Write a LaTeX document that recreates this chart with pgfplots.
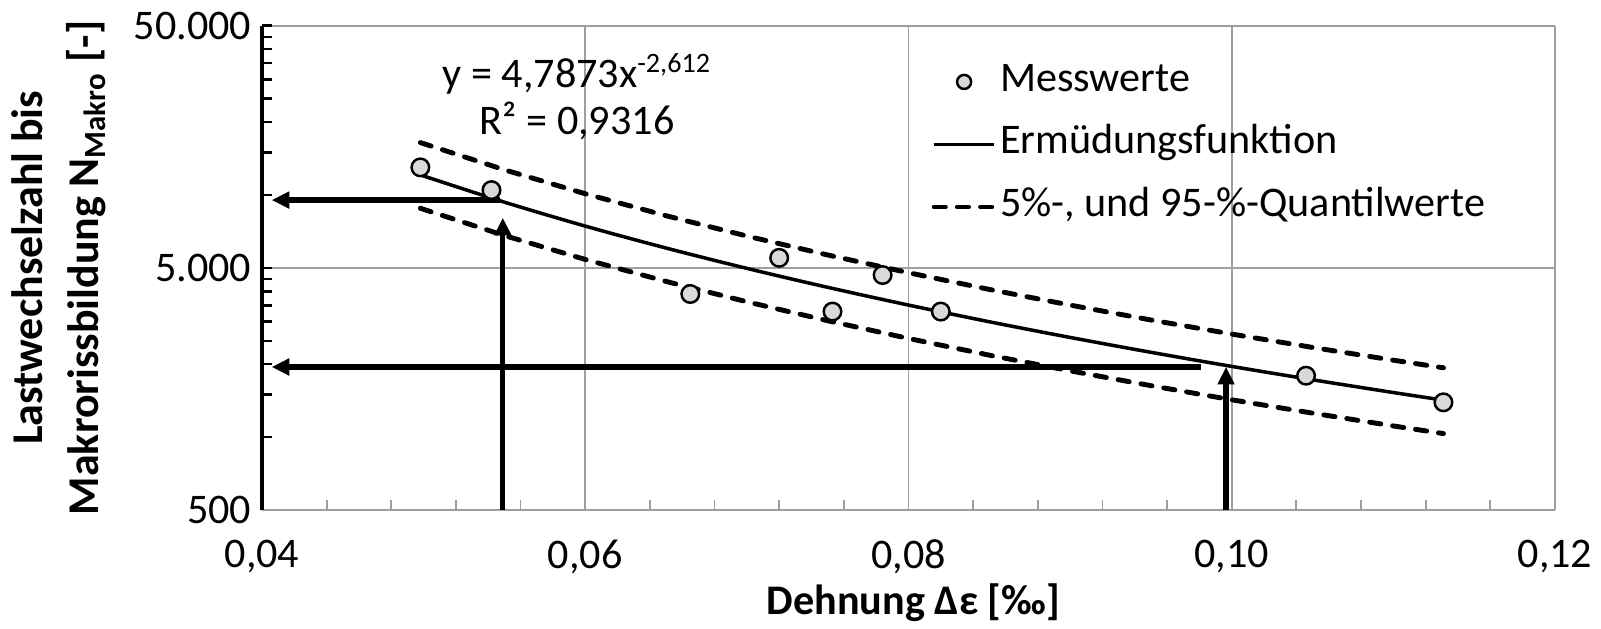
\documentclass[border=0pt]{standalone}
\usepackage{fontspec}
\setmainfont{Carlito}
\usepackage{pgfplots}
\pgfplotsset{compat=1.18}
\usetikzlibrary{arrows.meta}

\pgfplotstableread{
x y
0.0498 13000
0.0542 10470
0.0665 3900
0.0720 5500
0.0753 3300
0.0784 4670
0.0820 3300
0.1046 1793
0.1131 1392
}\messdata

\pgfplotstableread{
x f up lo
0.0498 12100 16456 8809
0.0550 9338 12700 6798
0.0600 7439 10117 5416
0.0650 6037 8210 4395
0.0700 4975 6766 3622
0.0750 4155 5651 3025
0.0800 3510 4774 2555
0.0850 2995 4073 2180
0.0900 2580 3509 1878
0.0950 2240 3046 1631
0.1000 1959 2664 1426
0.1050 1725 2346 1256
0.1100 1528 2078 1112
0.1131 1421 1933 1034
}\fitdata

\begin{document}
\begin{tikzpicture}
\useasboundingbox (-2.62,-1.18) rectangle (13.39,5.10);
\begin{axis}[
  at={(0,0)}, anchor=south west,
  scale only axis, width=12.93cm, height=4.843cm,
  xmin=0.04, xmax=0.12, ymode=log, ymin=500, ymax=50000,
  clip=false,
  xtick={0.04,0.06,0.08,0.10,0.12},
  xticklabels={{0,04},{0,06},{0,08},{0,10},{0,12}},
  minor x tick num=4,
  ytick={500,5000,50000},
  yticklabels={500,5.000,50.000},
  minor ytick={1000,1500,2000,2500,3000,3500,4000,4500,10000,15000,20000,25000,30000,35000,40000,45000},
  axis x line*=bottom, axis y line*=left,
  x axis line style={-, draw=gray!75, line width=0.6pt},
  y axis line style={-, draw=black, line width=0.9pt},
  xmajorgrids, ymajorgrids,
  grid style={draw=gray!75, line width=0.5pt},
  tick align=inside,
  major tick length=0.1cm, minor tick length=0.1cm,
  x tick style={draw=gray!75, line width=0.5pt},
  y tick style={draw=black, line width=0.7pt},
  tick label style={font=\fontsize{12}{14}\selectfont},
  xticklabel style={yshift=-5pt},
  yticklabel style={xshift=0.5pt},
  xlabel={Dehnung Δε [‰]},
  xlabel style={at={(axis description cs:0.5,0)}, anchor=center, yshift=-0.93cm, xshift=0.05cm, font=\fontsize{12}{15}\selectfont\bfseries},
  ylabel={Lastwechselzahl bis\\Makrorissbildung N\textsubscript{Makro} [-]},
  ylabel style={at={(axis description cs:0,0.5)}, anchor=center, rotate=0, yshift=2.03cm, align=center, font=\fontsize{12.5}{16}\selectfont\bfseries},
  legend cell align=left,
  legend style={at={(rel axis cs:0.5174,0.950)}, anchor=north west, draw=none, fill=none,
    font=\fontsize{12}{14}\selectfont, inner sep=0pt,
    nodes={inner sep=1pt, text height=10.6pt, text depth=5.2pt}},
]
\addlegendimage{only marks, mark=*, mark size=2pt, mark options={fill=gray!30, draw=black, line width=0.7pt}}
\addlegendentry{Messwerte}
\addlegendimage{black, line width=1pt}
\addlegendentry{Ermüdungsfunktion}
\addlegendimage{black, line width=1.4pt, line cap=round, dash pattern=on 3.2pt off 3.4pt}
\addlegendentry{5\%-, und 95-\%-Quantilwerte}

% arrows
\addplot[forget plot, black, line width=1.5pt, -{Triangle[length=5pt,width=4.6pt]}] coordinates {(0.0549,500) (0.0549,8050)};
\addplot[forget plot, black, line width=1.5pt, -{Triangle[length=5pt,width=4.6pt]}] coordinates {(0.0547,9525) (0.0406,9525)};
\addplot[forget plot, black, line width=1.5pt, -{Triangle[length=5pt,width=4.6pt]}] coordinates {(0.0981,1948) (0.0406,1948)};
\addplot[forget plot, black, line width=1.5pt, -{Triangle[length=5pt,width=4.6pt]}] coordinates {(0.09965,500) (0.09965,1950)};

% quantiles and fit
\addplot[forget plot, black, line width=1.4pt, line cap=round, dash pattern=on 3.2pt off 3.4pt] table[x=x, y=up] {\fitdata};
\addplot[forget plot, black, line width=1.4pt, line cap=round, dash pattern=on 3.2pt off 3.4pt] table[x=x, y=lo] {\fitdata};
\addplot[forget plot, black, line width=1pt, smooth] table[x=x, y=f] {\fitdata};

% data
\addplot[forget plot, only marks, mark=*, mark size=2.5pt, mark options={fill=gray!30, draw=black, line width=0.7pt}] table[x=x, y=y] {\messdata};

\node[font=\fontsize{12}{14}\selectfont] at (axis cs:0.0595,31700) {y = 4,7873x\textsuperscript{-2,612}};
\node[font=\fontsize{12}{14}\selectfont] at (axis cs:0.0595,20290) {R² = 0,9316};
\end{axis}
\end{tikzpicture}
\end{document}
